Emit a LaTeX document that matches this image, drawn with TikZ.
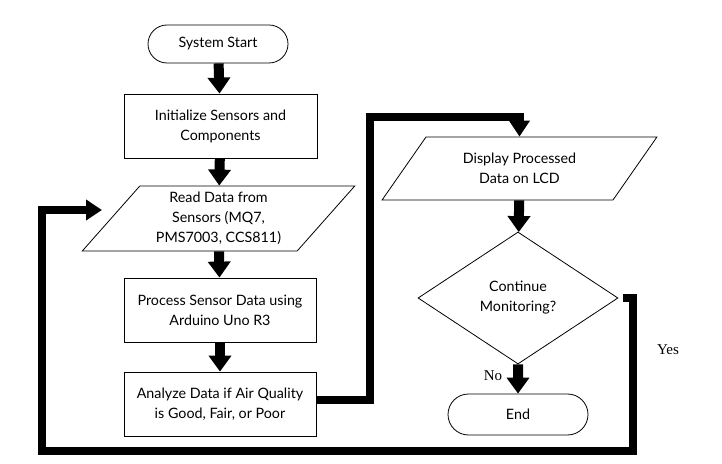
\documentclass[tikz,border=0pt]{standalone}
\usepackage{fontspec}
\setmainfont{Lato}
\newfontfamily\lblfont{Liberation Serif}
\usetikzlibrary{arrows.meta,shapes.geometric,shapes.misc}
\begin{document}
\begin{tikzpicture}[x=1pt,y=1pt,
  base/.style={draw=black, line width=0.8pt, align=center, inner sep=0pt,
    font=\fontsize{14.3}{20}\selectfont},
  term/.style={base, rounded rectangle, minimum width=140pt, minimum height=38pt},
  proc/.style={base, rectangle, minimum width=192pt, minimum height=64pt},
  io/.style={base, trapezium, trapezium left angle=49, trapezium right angle=131,
    trapezium stretches=true, minimum height=65pt},
  dec/.style={base, diamond, minimum width=200pt, minimum height=132pt},
  flow/.style={line width=10pt, -{Triangle[width=22pt,length=16pt]}},
  loopline/.style={line width=8pt, line join=miter, -{Triangle[width=20pt,length=16pt]}},
  lbl/.style={font=\lblfont\fontsize{15}{17}\selectfont}
]
\useasboundingbox (0,0) rectangle (722,463);
\node[term] (start) at (218,419) {System Start};
\node[proc, minimum width=193pt] (init) at (220.5,337) {Initialize Sensors and\\Components};
\node[io, minimum width=273pt] (read) at (218.5,244.5) {Read Data from\\Sensors (MQ7,\\PMS7003, CCS811)};
\node[proc] (process) at (220,153) {Process Sensor Data using\\Arduino Uno R3};
\node[proc] (analyze) at (220,59) {Analyze Data if Air Quality\\is Good, Fair, or Poor};
\node[io, minimum width=275pt, minimum height=63pt] (display) at (519.5,294.5) {Display Processed\\Data on LCD};
\node[dec] (decide) at (518,165) {Continue\\Monitoring?};
\node[term, minimum height=41pt] (end) at (518,48.5) {End};
\node[lbl] (no) at (493,87) {No};
\node[lbl] (yes) at (668,113) {Yes};

\coordinate (c1) at (370,346);
\coordinate (y1) at (633,12);
\coordinate (y2) at (42,253);
\coordinate (readin) at (102,253);

\draw[flow] (start) -- (init);
\draw[flow] (init) -- (read);
\draw[flow] (read) -- (process);
\draw[flow] (process) -- (analyze);
\draw[flow] (display) -- (decide);
\draw[flow] (decide) -- (end);

\draw[loopline] ([yshift=4pt]analyze.east) -| (c1) -| (display.north);
\draw[loopline] ([xshift=5pt]decide.east) -| (y1) -| (y2) -- (readin);
\end{tikzpicture}
\end{document}
